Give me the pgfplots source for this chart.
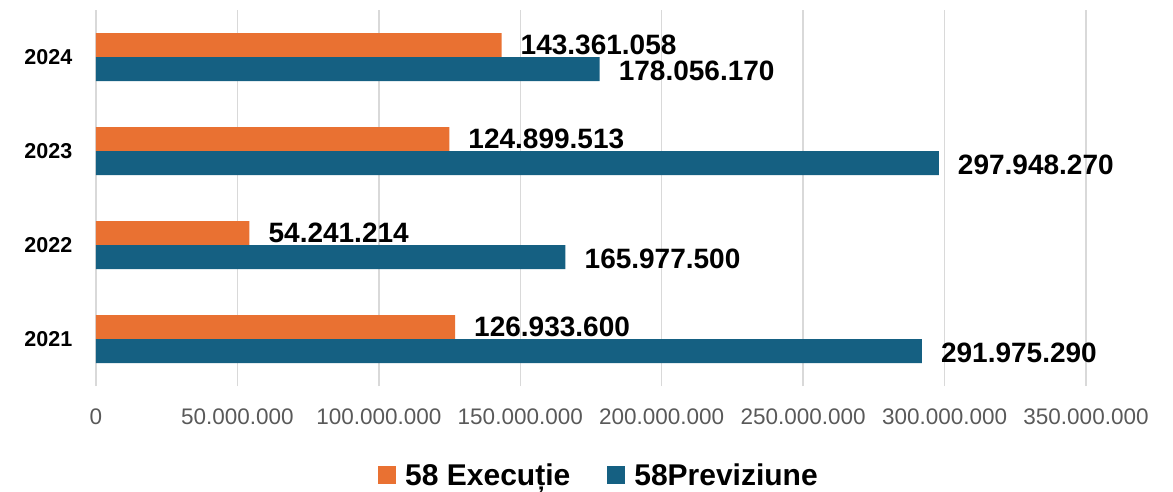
\documentclass[border=0pt]{standalone}
\usepackage{pgfplots}
\pgfplotsset{compat=1.18}
\usepackage{pgfplotstable}
\usepackage{fontspec}
\setmainfont{Liberation Sans}
\definecolor{exo}{HTML}{E97132}
\definecolor{prv}{HTML}{156082}
\definecolor{grd}{HTML}{D9D9D9}
\definecolor{tck}{HTML}{595959}

\pgfplotstableread{
y x label
1 126933600 126.933.600
2 54241214 54.241.214
3 124899513 124.899.513
4 143361058 143.361.058
}\exec
\pgfplotstableread{
y x label
1 291975290 291.975.290
2 165977500 165.977.500
3 297948270 297.948.270
4 178056170 178.056.170
}\prev

\begin{document}
\begin{tikzpicture}
\path[use as bounding box] (-96bp,-106bp) rectangle (1077bp,386bp);
\begin{axis}[
  at={(0,0)}, anchor=south west,
  scale only axis,
  width=990bp, height=376bp,
  xmin=0, xmax=350000000,
  ymin=0.5, ymax=4.5,
  clip=false,
  axis line style={draw=none},
  xmajorgrids,
  grid style={grd, line width=1.3bp},
  major tick length=0pt,
  xtick style={draw=none}, ytick style={draw=none},
  scaled x ticks=false,
  xtick={0,50000000,100000000,150000000,200000000,250000000,300000000,350000000},
  xticklabels={0,50.000.000,100.000.000,150.000.000,200.000.000,250.000.000,300.000.000,350.000.000},
  xticklabel style={font=\fontsize{22.5bp}{24bp}\selectfont, text=tck, anchor=north, inner sep=0pt, yshift=-22.3bp},
  ytick={1,2,3,4},
  yticklabels={2021,2022,2023,2024},
  yticklabel style={font=\fontsize{21.5bp}{23bp}\selectfont\bfseries, text=black, anchor=east, inner sep=0pt, xshift=-23.5bp},
  legend style={at={(0.5,0)}, anchor=center, xshift=7bp, yshift=-89bp,
    draw=none, fill=none, inner sep=0pt,
    font=\fontsize{30bp}{32bp}\selectfont\bfseries,
    nodes={inner sep=0pt},
    /tikz/every odd column/.append style={column sep=9bp},
    /tikz/every even column/.append style={column sep=37bp}},
  legend columns=2,
  nodes near coords style={font=\fontsize{28bp}{30bp}\selectfont\bfseries, text=black, anchor=west, inner sep=0pt, xshift=19bp},
]
\addplot[xbar, bar width=24bp, bar shift=12bp, fill=exo, draw=none,
  nodes near coords, point meta=explicit symbolic,
  every node near coord/.append style={yshift=12bp},
  legend image code/.code={\fill[exo] (0bp,-9bp) rectangle (18bp,9bp);}]
  table[x=x, y=y, meta=label] {\exec};
\addlegendentry{58 Execuție}
\addplot[xbar, bar width=24bp, bar shift=-12bp, fill=prv, draw=none,
  nodes near coords, point meta=explicit symbolic,
  every node near coord/.append style={yshift=-13.5bp},
  legend image code/.code={\fill[prv] (0bp,-9bp) rectangle (18bp,9bp);}]
  table[x=x, y=y, meta=label] {\prev};
\addlegendentry{58Previziune}
\end{axis}
\end{tikzpicture}
\end{document}
